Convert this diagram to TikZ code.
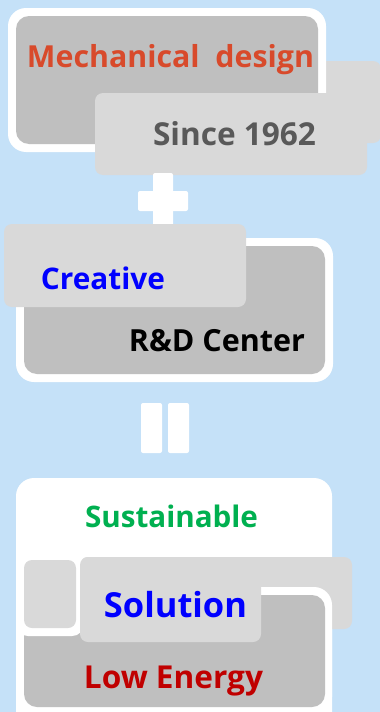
\documentclass[tikz,border=0pt]{standalone}
\usepackage{fontspec}
\setmainfont{Open Sans}
\usepackage{graphicx}
\definecolor{bgblue}{HTML}{C5E1F8}
\definecolor{dgray}{HTML}{BFBFBF}
\definecolor{lgray}{HTML}{D9D9D9}
\definecolor{mechred}{HTML}{D84A2B}
\definecolor{sincegray}{HTML}{595959}
\definecolor{susgreen}{HTML}{00B050}
\definecolor{lowred}{HTML}{C00000}
\newcommand{\fitw}[2]{\resizebox{#1}{!}{\bfseries\fontsize{29}{30}\selectfont #2}}
\tikzset{
  lab/.style={inner sep=0pt, anchor=base},
  lbox/.style={fill=lgray, rounded corners=8pt},
  wbox/.style={fill=white, rounded corners=18pt},
  gbox/.style={fill=dgray, rounded corners=13pt},
  sym/.style={fill=white, rounded corners=2pt}
}
\begin{document}
\begin{tikzpicture}[x=1pt,y=-1pt]
\useasboundingbox (0,0) rectangle (380,712);
\begin{scope}
\clip (0,0) rectangle (380,712);
\fill[bgblue] (0,0) rectangle (380,712);
% top section
\fill[lbox] (200,61) rectangle (381,143);
\fill[wbox] (8,8) rectangle (326,152);
\fill[gbox] (16,16) rectangle (318,144);
\fill[lbox] (95,93) rectangle (367,175);
\node[lab] (mech) at (170.5,67) {\fitw{287pt}{\color{mechred}Mechanical\ \ design}};
\node[lab] (since) at (234.5,145) {\fitw{163pt}{\color{sincegray}Since 1962}};
% plus
\fill[sym] (153,173) rectangle (173,228);
\fill[sym] (138,191) rectangle (188,211);
% second section
\fill[wbox] (16,238) rectangle (333,382);
\fill[gbox] (24,246) rectangle (325,374);
\fill[lbox] (4,224) rectangle (246,307);
\node[lab] (creative) at (103,289) {\fitw{124pt}{\color{blue}Creative}};
\node[lab] (rd) at (217,351) {\fitw{176pt}{\color{black}R\&D Center}};
% equals
\fill[sym] (141,403) rectangle (162,453);
\fill[sym] (168,403) rectangle (189,453);
% third section
\fill[wbox] (16,478) rectangle (332,740);
\node[lab] (sus) at (171.5,527) {\fitw{173pt}{\color{susgreen}Sustainable}};
\fill[lbox] (80,557) rectangle (352,629);
\fill[wbox] (16,587) rectangle (332,715);
\fill[gbox] (24,595) rectangle (325,707);
\fill[fill=white, rounded corners=12pt] (16,552) rectangle (84,636);
\fill[lbox] (24,560) rectangle (76,628);
\fill[lbox] (80,557) rectangle (261,642);
\node[lab] (sol) at (175.5,617) {\fitw{143pt}{\color{blue}Solution}};
\node[lab] (low) at (173.5,688) {\fitw{179pt}{\color{lowred}Low Energy}};
\end{scope}
\end{tikzpicture}
\end{document}
